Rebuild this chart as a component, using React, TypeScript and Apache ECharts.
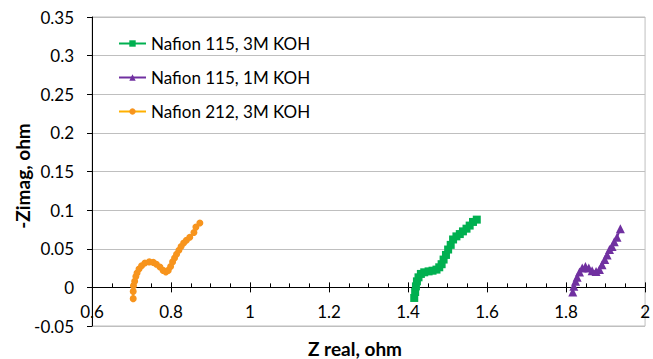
import React, { useEffect, useRef } from "react";
import * as echarts from "echarts";

// Nyquist plot of three membrane / electrolyte combinations
const X_TICKS = [0.6, 0.8, 1, 1.2, 1.4, 1.6, 1.8, 2];
const Y_TICKS = [-0.05, 0, 0.05, 0.1, 0.15, 0.2, 0.25, 0.3, 0.35];

const SERIES_NAMES = ["Nafion 115, 3M KOH", "Nafion 115, 1M KOH", "Nafion 212, 3M KOH"];

const n115_3m_x = [1.4157, 1.418, 1.42, 1.4225, 1.4265, 1.4325, 1.441, 1.452, 1.462, 1.472, 1.479, 1.485, 1.49, 1.496, 1.5015, 1.508, 1.514, 1.5225, 1.531, 1.539, 1.548, 1.556, 1.5645, 1.574];
const n115_3m_y = [-0.0137, -0.006, 0.0013, 0.0078, 0.013, 0.0174, 0.0195, 0.0207, 0.0216, 0.023, 0.026, 0.03, 0.036, 0.042, 0.049, 0.055, 0.062, 0.066, 0.069, 0.0725, 0.076, 0.08, 0.0847, 0.0877];

const n115_1m_x = [1.817, 1.8197, 1.824, 1.828, 1.834, 1.841, 1.849, 1.8576, 1.866, 1.876, 1.8845, 1.891, 1.898, 1.904, 1.91, 1.9165, 1.922, 1.929, 1.9375];
const n115_1m_y = [-0.006, 0.0013, 0.0078, 0.013, 0.02, 0.025, 0.027, 0.025, 0.0216, 0.0207, 0.023, 0.0294, 0.036, 0.042, 0.049, 0.053, 0.059, 0.065, 0.076];

const n212_3m_x = [0.7043, 0.7043, 0.705, 0.708, 0.711, 0.714, 0.719, 0.7255, 0.734, 0.745, 0.755, 0.763, 0.772, 0.78, 0.787, 0.793, 0.799, 0.804, 0.809, 0.814, 0.82, 0.8255, 0.832, 0.839, 0.8475, 0.858, 0.863, 0.873];
const n212_3m_y = [-0.0146, -0.0052, 0.002, 0.0078, 0.014, 0.0186, 0.0238, 0.028, 0.0316, 0.033, 0.0324, 0.03, 0.0264, 0.022, 0.02, 0.022, 0.027, 0.033, 0.038, 0.043, 0.048, 0.053, 0.0575, 0.061, 0.065, 0.071, 0.078, 0.0834];

const zip = (xs: number[], ys: number[]) => xs.map((x, i) => [x, ys[i]]);

const FONT = "Lato, 'Liberation Sans', sans-serif";

const W = 653;
const H = 359;
const GRID = { left: 92, right: 6, top: 17, bottom: 33 };

export default function App() {
  const ref = useRef<HTMLDivElement>(null);

  useEffect(() => {
    if (!ref.current) return;
    const chart = echarts.init(ref.current, undefined, { renderer: "svg" });
    const xMin = X_TICKS[0];
    const xMax = X_TICKS[X_TICKS.length - 1];
    const yMin = Y_TICKS[0];
    const yMax = Y_TICKS[Y_TICKS.length - 1];
    const fmt = (v: number) => String(parseFloat(v.toFixed(2)));

    // the x axis crosses the value axis at zero: lift it from the grid bottom
    const plotH = H - GRID.top - GRID.bottom;
    const zeroLift = -(plotH * (0 - yMin)) / (yMax - yMin);

    chart.setOption({
      animation: false,
      grid: {
        ...GRID,
        show: true,
        borderColor: "#BFBFBF",
        borderWidth: 1,
      },
      legend: {
        orient: "vertical",
        left: 118,
        top: 35,
        padding: 0,
        itemWidth: 27,
        itemHeight: 8,
        itemGap: 17,
        textStyle: { fontFamily: FONT, fontSize: 17, color: "#000" },
        data: SERIES_NAMES,
      },
      xAxis: [
        {
          type: "value",
          min: xMin,
          max: xMax,
          interval: 0.2,
          position: "bottom",
          offset: zeroLift,
          axisLine: { onZero: false, lineStyle: { color: "#000", width: 1 } },
          axisTick: { show: true, inside: true, length: 5, lineStyle: { color: "#000" } },
          minorTick: { show: true, splitNumber: 4, length: 4, lineStyle: { color: "#000" } },
          splitLine: { show: false },
          axisLabel: {
            margin: 16,
            fontFamily: FONT,
            fontSize: 17,
            color: "#000",
            formatter: fmt,
          },
        },
        {
          type: "value",
          min: xMin,
          max: xMax,
          interval: 0.2,
          position: "bottom",
          offset: zeroLift,
          axisLine: { show: false, onZero: false },
          axisTick: { show: true, inside: false, length: 5, lineStyle: { color: "#000" } },
          splitLine: { show: false },
          axisLabel: { show: false },
        },
      ],
      yAxis: {
        type: "value",
        min: yMin,
        max: yMax,
        interval: 0.05,
        axisLine: { show: true, onZero: false, lineStyle: { color: "#000", width: 1 } },
        axisTick: { show: true, length: 5, lineStyle: { color: "#000" } },
        splitLine: { show: true, lineStyle: { color: "#BFBFBF", width: 1 } },
        axisLabel: {
          margin: 18,
          fontFamily: FONT,
          fontSize: 17,
          color: "#000",
          formatter: fmt,
        },
      },
      graphic: [
        {
          type: "text",
          x: 355,
          y: 348,
          style: {
            text: "Z real, ohm",
            align: "center",
            verticalAlign: "middle",
            font: `bold 19px ${FONT}`,
            fill: "#000",
          },
        },
        {
          type: "text",
          x: 22,
          y: 176,
          rotation: Math.PI / 2,
          style: {
            text: "-Zimag, ohm",
            align: "center",
            verticalAlign: "middle",
            font: `bold 19px ${FONT}`,
            fill: "#000",
          },
        },
      ],
      series: [
        {
          name: SERIES_NAMES[0],
          type: "line",
          xAxisIndex: 0,
          data: zip(n115_3m_x, n115_3m_y),
          symbol: "rect",
          symbolSize: 8,
          lineStyle: { color: "#00B050", width: 2 },
          itemStyle: { color: "#00B050" },
        },
        {
          name: SERIES_NAMES[1],
          type: "line",
          xAxisIndex: 0,
          data: zip(n115_1m_x, n115_1m_y),
          symbol: "triangle",
          symbolSize: 9,
          lineStyle: { color: "#7030A0", width: 2 },
          itemStyle: { color: "#7030A0" },
        },
        {
          name: SERIES_NAMES[2],
          type: "line",
          xAxisIndex: 0,
          data: zip(n212_3m_x, n212_3m_y),
          symbol: "circle",
          symbolSize: 7,
          lineStyle: { color: "#FFB000", width: 2 },
          itemStyle: { color: "#F7941D" },
        },
      ],
    });
    return () => chart.dispose();
  }, []);

  return <div ref={ref} style={{ width: W, height: H, position: "absolute", left: 0, top: 0 }} />;
}
